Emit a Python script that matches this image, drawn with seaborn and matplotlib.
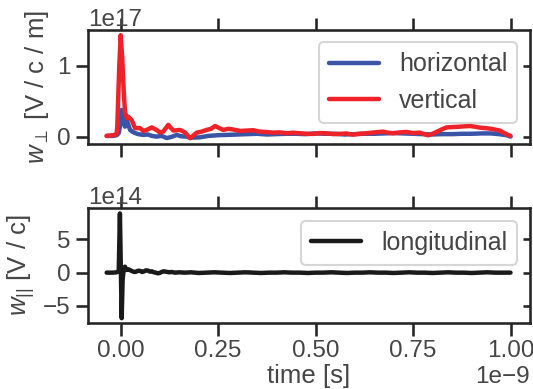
import matplotlib
matplotlib.use("Agg")
from matplotlib import pyplot as plt
from matplotlib import markers
import seaborn as sns
import numpy as np

# time axis in ns, wake values in units of 1e17 V/c/m (top) and 1e14 V/c (bottom)
t_hor = [-0.036, -0.02, -0.01, -0.005, 0.0, 0.0026, 0.0068, 0.011, 0.0154, 0.02, 0.024,
         0.03, 0.037, 0.045, 0.058, 0.07, 0.08, 0.092, 0.105, 0.118, 0.13, 0.144, 0.155,
         0.169, 0.18, 0.203, 0.225, 0.25, 0.275, 0.3, 0.325, 0.35, 0.375, 0.4, 0.425,
         0.45, 0.475, 0.5, 0.525, 0.55, 0.575, 0.6, 0.625, 0.65, 0.675, 0.7, 0.725, 0.75,
         0.775, 0.8, 0.825, 0.85, 0.875, 0.9, 0.925, 0.95, 0.97, 0.99, 1.0]
w_hor = [0.01, 0.01, 0.02, 0.05, 0.2, 0.376, 0.235, 0.14, 0.235, 0.16, 0.094,
         0.07, 0.05, 0.035, 0.024, 0.03, 0.01, 0.0, 0.01, -0.02, -0.005, 0.024, 0.005,
         0.0, -0.015, -0.01, 0.01, 0.02, 0.025, 0.03, 0.035, 0.04, 0.03, 0.035, 0.04,
         0.04, 0.035, 0.045, 0.04, 0.04, 0.03, 0.035, 0.04, 0.04, 0.045, 0.05, 0.045, 0.04,
         0.035, 0.03, 0.035, 0.035, 0.04, 0.04, 0.045, 0.045, 0.035, 0.02, 0.0]

t_ver = [-0.036, -0.0146, -0.0103, -0.0087, -0.0036, 0.0, 0.004, 0.0077, 0.011, 0.0154,
         0.0195, 0.028, 0.0367, 0.0495, 0.058, 0.0667, 0.0795, 0.092, 0.1, 0.109, 0.122,
         0.135, 0.152, 0.165, 0.178, 0.195, 0.207, 0.22, 0.232, 0.242, 0.253, 0.263, 0.276,
         0.289, 0.306, 0.323, 0.34, 0.357, 0.374, 0.391, 0.408, 0.426, 0.443, 0.46, 0.477,
         0.494, 0.511, 0.528, 0.545, 0.562, 0.579, 0.596, 0.613, 0.631, 0.652, 0.673, 0.686,
         0.699, 0.716, 0.733, 0.75, 0.767, 0.779, 0.789, 0.8, 0.81, 0.823, 0.836, 0.853,
         0.87, 0.883, 0.896, 0.908, 0.921, 0.934, 0.947, 0.96, 0.973, 0.984, 0.994, 1.0]
w_ver = [0.01, 0.024, 0.05, 0.15, 1.0, 1.43, 1.1, 0.65, 0.35, 0.26,
         0.28, 0.235, 0.12, 0.12, 0.08, 0.094, 0.13, 0.094, 0.06, 0.07, 0.165,
         0.085, 0.094, 0.06, -0.023, 0.056, 0.07, 0.094, 0.11, 0.15, 0.12, 0.094, 0.11,
         0.10, 0.08, 0.085, 0.09, 0.07, 0.065, 0.056, 0.06, 0.047, 0.055, 0.047, 0.04,
         0.038, 0.05, 0.047, 0.035, 0.038, 0.045, 0.028, 0.04, 0.047, 0.06, 0.07, 0.055,
         0.047, 0.06, 0.066, 0.05, 0.056, 0.035, 0.019, 0.04, 0.066, 0.1, 0.13, 0.135,
         0.14, 0.145, 0.15, 0.14, 0.127, 0.12, 0.113, 0.1, 0.085, 0.05, 0.024, 0.01]

t_lon = [-0.036, -0.02, -0.01, -0.005, -0.002, 0.0, 0.0025, 0.005, 0.008, 0.011, 0.015,
         0.02, 0.025, 0.03, 0.035, 0.04, 0.045, 0.05, 0.055, 0.06, 0.065, 0.07, 0.075,
         0.08, 0.085, 0.09, 0.095, 0.1, 0.105, 0.11, 0.115, 0.12, 0.125, 0.13, 0.14,
         0.15, 0.165, 0.18, 0.2, 0.22, 0.24, 0.26, 0.28, 0.3, 0.32, 0.34, 0.36,
         0.38, 0.4, 0.42, 0.44, 0.46, 0.48, 0.5, 0.52, 0.54, 0.56, 0.58, 0.6, 0.62,
         0.64, 0.66, 0.68, 0.7, 0.72, 0.74, 0.76, 0.78, 0.8, 0.82, 0.84, 0.86, 0.88,
         0.9, 0.92, 0.94, 0.96, 0.98, 1.0]
w_lon = [0.0, 0.0, 0.05, 0.3, 8.9, 2.0, -6.85, -1.0, 0.6, 0.9, 0.4,
         0.5, 0.35, 0.2, 0.1, 0.15, 0.3, 0.25, 0.1, 0.2, 0.35, 0.3, 0.15,
         0.2, 0.05, 0.0, -0.1, -0.05, 0.1, 0.2, 0.15, 0.1, 0.05, 0.1, 0.0,
         0.05, 0.0, 0.05, -0.05, 0.0, 0.05, 0.0, -0.05, 0.0, 0.05, 0.0, -0.05,
         0.0, 0.0, 0.05, 0.0, 0.0, -0.05, 0.0, 0.0, 0.05, 0.0, -0.05, 0.0, 0.0,
         0.05, 0.0, 0.0, -0.05, 0.0, 0.05, 0.0, 0.0, -0.05, 0.0, 0.05, 0.0, 0.0,
         -0.05, 0.0, 0.05, 0.0, 0.0, 0.0]

sns.set_theme(style="ticks", context="talk")
plt.rcParams["font.family"] = ["Liberation Sans", "DejaVu Sans"]
plt.rcParams["mathtext.fontset"] = "custom"
plt.rcParams["mathtext.it"] = "Liberation Sans:italic"
plt.rcParams["mathtext.rm"] = "Liberation Sans"
plt.rcParams["text.color"] = ".27"
plt.rcParams["axes.labelcolor"] = ".27"
plt.rcParams["xtick.labelcolor"] = ".27"
plt.rcParams["ytick.labelcolor"] = ".27"
plt.rcParams["xtick.labelsize"] = 17.5
plt.rcParams["ytick.labelsize"] = 17.5
plt.rcParams["legend.fontsize"] = 18
plt.rcParams["axes.labelsize"] = 18.5

fig = plt.figure(figsize=(5.33, 3.89), dpi=100)
ax1 = fig.add_axes([0.165, 0.630, 0.829, 0.293])
ax2 = fig.add_axes([0.165, 0.170, 0.829, 0.295], sharex=ax1)

sns.lineplot(x=np.array(t_hor) * 1e-9, y=np.array(w_hor) * 1e17, ax=ax1,
             color="#3a55a8", lw=3.2, label="horizontal")
sns.lineplot(x=np.array(t_ver) * 1e-9, y=np.array(w_ver) * 1e17, ax=ax1,
             color="#ee2228", lw=3.2, label="vertical")
sns.lineplot(x=np.array(t_lon) * 1e-9, y=np.array(w_lon) * 1e14, ax=ax2,
             color="#1a1a1a", lw=3.2, label="longitudinal")

ax1.set_xlim(-0.084e-9, 1.0495e-9)
ax1.set_ylim(-0.103e17, 1.503e17)
ax2.set_ylim(-7.55e14, 9.7e14)
ax1.set_xticks([0, 0.25e-9, 0.5e-9, 0.75e-9, 1.0e-9])
ax1.set_yticks([0, 1e17])
ax2.set_yticks([-5e14, 0, 5e14])

ax1.set_ylabel(r"$w_\perp$ [V / c / m]")
ax2.set_ylabel(r"$w_{||}$ [V / c]")
ax2.set_xlabel("time [s]", labelpad=1)
ax1.set_xlabel("")

for ax in (ax1, ax2):
    ax.tick_params(axis="x", top=True, direction="out")
    ax.tick_params(axis="y", right=True, direction="out")
    ax.legend(loc="upper right")
plt.setp(ax1.get_xticklabels(), visible=False)
ax1.xaxis.get_offset_text().set_visible(False)

fig.canvas.draw()
# right-hand y ticks point inwards and are short
for ax in (ax1, ax2):
    for tick in ax.yaxis.get_major_ticks():
        tick.tick2line.set_marker(markers.TICKLEFT)
        tick.tick2line.set_markersize(5)

fig.savefig("out.png", dpi=100)
